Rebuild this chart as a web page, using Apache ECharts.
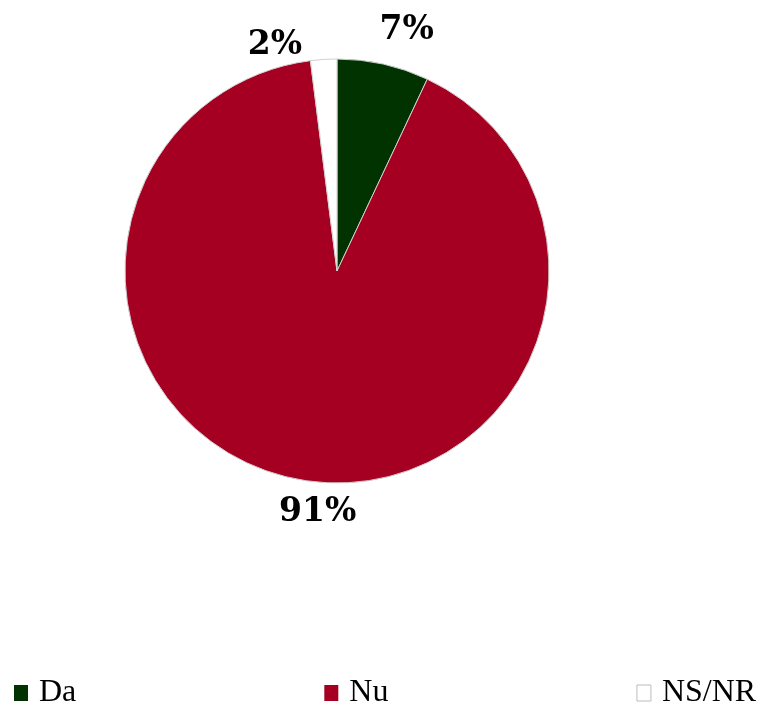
<!DOCTYPE html>
<html><head><meta charset="utf-8">
<script src="https://cdn.jsdelivr.net/npm/echarts@6/dist/echarts.min.js"></script>
<style>html,body{margin:0;padding:0;background:#fff}#c{width:770px;height:709px}</style>
</head><body><div id="c"></div>
<script>
const categories = ['Da', 'Nu', 'NS/NR'];
const values = [7, 91, 2];
const colors = ['#003300', '#A50021', '#FFFFFF'];
const labelShift = [[-11, -24], [59, 22], [-16, -4]];

const chart = echarts.init(document.getElementById('c'));
chart.setOption({
  animation: false,
  backgroundColor: '#fff',
  legend: {
    bottom: -5, left: 9,
    itemWidth: 14, itemHeight: 16, itemGap: 248,
    icon: 'rect',
    data: categories.map((n, i) => ({name: n, itemStyle: {borderColor: '#bbb', borderWidth: i === 2 ? 1 : 0}})),
    textStyle: {fontFamily: 'Liberation Serif', fontSize: 32, color: '#000', padding: [0, 0, 0, 6]}
  },
  series: [{
    type: 'pie',
    center: [337, 271],
    radius: 212,
    startAngle: 90,
    clockwise: true,
    data: categories.map((n, i) => ({name: n, value: values[i], itemStyle: {color: colors[i]}})),
    itemStyle: {borderColor: '#d0d0d0', borderWidth: 1},
    label: {
      show: true, position: 'outside', distance: 14,
      formatter: '{c}%',
      fontFamily: 'DejaVu Serif', fontWeight: 'bold', fontSize: 33, color: '#000'
    },
    labelLine: {show: false, length: 10, length2: 0},
    labelLayout: function (p) { const s = labelShift[p.dataIndex]; return {dx: s[0], dy: s[1]}; },
    emphasis: {disabled: true}
  }]
});
</script></body></html>
